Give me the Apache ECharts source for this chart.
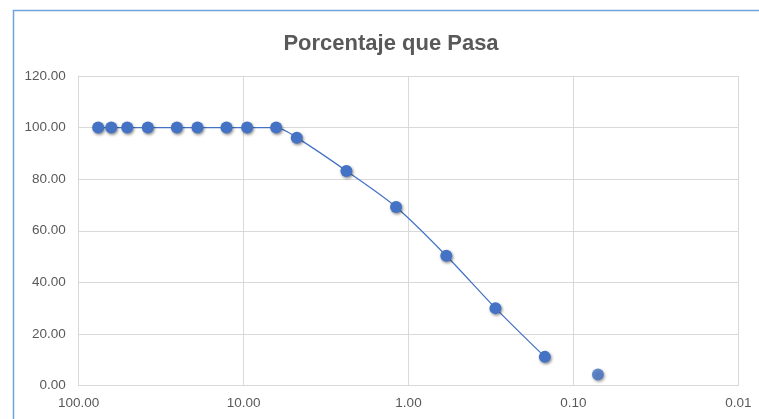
<!DOCTYPE html>
<html>
<head>
<meta charset="utf-8">
<script src="https://cdn.jsdelivr.net/npm/echarts@6/dist/echarts.min.js"></script>
<style>
  html, body { margin: 0; padding: 0; background: #ffffff; }
  #chart { width: 759px; height: 419px; }
</style>
</head>
<body>
<div id="chart"></div>
<script>
// Sieve openings (mm) and cumulative percent passing
const sieveSizes = [76.2, 63.5, 50.8, 38.1, 25.4, 19.05, 12.7, 9.525, 6.35, 4.76, 2.38, 1.19, 0.59, 0.297, 0.149, 0.071];
const percentPassing = [100, 100, 100, 100, 100, 100, 100, 100, 100, 96.1, 83.2, 69.2, 50.3, 30.0, 11.1, 4.3];
// Number of points joined by the curve; the rest are plotted as loose markers
const joinedCount = 15;
const yTicks = [0, 20, 40, 60, 80, 100, 120];
const xTicks = [100, 10, 1, 0.1, 0.01];

const pairs = sieveSizes.map((s, i) => [s, percentPassing[i]]);
const blue = '#4472C4';
const markerStyle = {
  color: blue,
  shadowBlur: 3,
  shadowColor: 'rgba(0,0,0,0.45)',
  shadowOffsetX: 1,
  shadowOffsetY: 1.5
};
const font = 'Liberation Sans, Arial, sans-serif';

const chart = echarts.init(document.getElementById('chart'), null, { renderer: 'canvas' });
chart.setOption({
  animation: false,
  backgroundColor: '#ffffff',
  title: {
    text: 'Porcentaje que Pasa',
    left: 386,
    textAlign: 'center',
    top: 28,
    textStyle: { fontFamily: font, fontWeight: 'bold', fontSize: 22, color: '#595959' }
  },
  graphic: [{
    type: 'rect',
    shape: { x: 13.5, y: 10.5, width: 800, height: 500 },
    style: { fill: 'none', stroke: '#6FA3DB', lineWidth: 1.5 },
    silent: true,
    z: 100
  }],
  grid: { left: 78.7, right: 20.7, top: 76, bottom: 33.5, containLabel: false },
  xAxis: {
    type: 'log',
    logBase: 10,
    inverse: true,
    min: xTicks[xTicks.length - 1],
    max: xTicks[0],
    axisLine: { show: true, lineStyle: { color: '#d9d9d9', width: 1 } },
    axisTick: { show: false },
    splitLine: { show: true, lineStyle: { color: '#d9d9d9', width: 1 } },
    axisLabel: {
      color: '#595959',
      fontFamily: font,
      fontSize: 13.5,
      margin: 11,
      formatter: v => v.toFixed(2),
      showMinLabel: true,
      showMaxLabel: true
    }
  },
  yAxis: {
    type: 'value',
    min: yTicks[0],
    max: yTicks[yTicks.length - 1],
    interval: 20,
    axisLine: { show: true, lineStyle: { color: '#d9d9d9', width: 1 } },
    axisTick: { show: false },
    splitLine: { show: true, lineStyle: { color: '#d9d9d9', width: 1 } },
    axisLabel: {
      color: '#595959',
      fontFamily: font,
      fontSize: 13.5,
      margin: 13,
      formatter: v => v.toFixed(2)
    }
  },
  series: [
    {
      type: 'line',
      data: pairs.slice(0, joinedCount),
      smooth: 0.3,
      symbol: 'circle',
      symbolSize: 12,
      lineStyle: { color: blue, width: 1.25 },
      itemStyle: markerStyle,
      z: 3
    },
    {
      type: 'scatter',
      data: pairs.slice(joinedCount),
      symbol: 'circle',
      symbolSize: 12,
      itemStyle: markerStyle,
      z: 3
    }
  ]
});
</script>
</body>
</html>
